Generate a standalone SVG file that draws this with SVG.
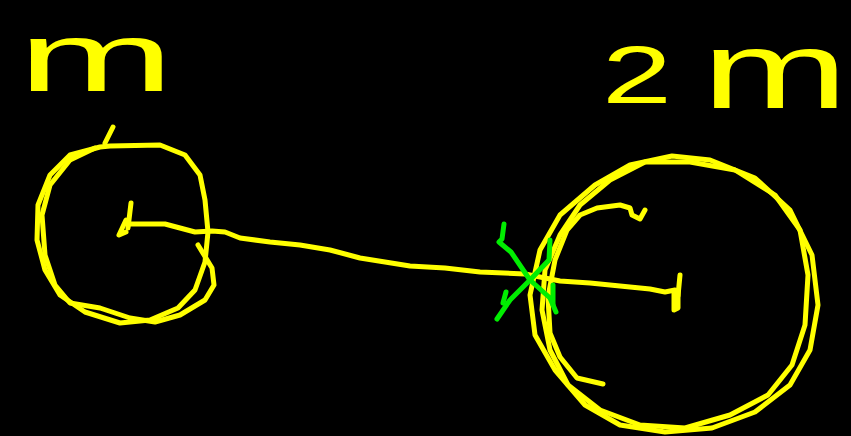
<svg xmlns="http://www.w3.org/2000/svg" width="851" height="436" viewBox="0 0 851 436">
<style>
.y{fill:none;stroke:#ffff00;stroke-width:5;stroke-linecap:round;stroke-linejoin:round}
.g{fill:none;stroke:#00ee00;stroke-width:5;stroke-linecap:round;stroke-linejoin:round}
.lbl{fill:#ffff00;font-family:"Liberation Sans",Arial,sans-serif}
</style>
<rect width="851" height="436" fill="#000"/>
<g id="mass-m">
<text class="lbl" x="18" y="91" font-size="98" textLength="156" lengthAdjust="spacingAndGlyphs">m</text>
<path class="y" d="M113,127 L105,143"/>
<path class="y" d="M110,146 L160,145 L185,155 L200,175 L205,200 L208,232 L205,262 L195,290 L178,308 L150,320 L120,323 L85,312 L60,295 L45,270 L37,240 L38,205 L50,175 L70,155 L100,147 Z"/>
<path class="y" d="M95,148 L70,160 L50,185 L42,215 L45,255 L55,285 L70,303 L100,308 L130,318 L155,322 L180,315 L205,300 L214,285 L212,268 L198,245"/>
<path class="y" d="M131,203 L128,228"/>
<path class="y" d="M126,220 L119,235 L126,232"/>
</g>
<g id="mass-2m">
<text class="lbl" x="602" y="103" font-size="82" textLength="70" lengthAdjust="spacingAndGlyphs">2</text>
<text class="lbl" x="702" y="108" font-size="110" textLength="146" lengthAdjust="spacingAndGlyphs">m</text>
<path class="y" d="M672,156 L710,160 L755,178 L790,210 L812,255 L818,305 L810,350 L790,385 L755,412 L712,428 L665,432 L620,425 L585,405 L555,370 L535,335 L530,295 L540,250 L560,215 L595,185 L630,165 Z"/>
<path class="y" d="M645,162 L690,162 L735,170 L775,195 L800,230 L808,275 L805,325 L792,365 L768,395 L730,415 L685,428 L640,425 L600,410 L568,385 L550,350 L542,310 L545,270 L560,235 L580,205 L610,180 Z"/>
<path class="y" d="M645,210 L640,219 L632,215 L630,208 L620,205 L597,208 L580,215 L567,230 L555,260 L548,297 L550,333 L560,357 L577,378 L603,384"/>
<path class="y" d="M680,275 L678,296"/>
<path class="y" d="M674,292 L674,310 L678,308 L678,290"/>
</g>
<g id="connectors">
<path class="y" d="M130,224 L165,224 L195,232 L212,231 L225,232 L240,238 L270,242 L300,245 L330,250 L360,258 L410,266 L445,268 L480,272 L525,274 L560,281 L590,283 L620,286 L650,289 L665,292 L675,290"/>
<path class="g" d="M504,224 L502,239 L499,242 L511,252 L530,280 L550,298 L556,312"/>
<path class="g" d="M550,240 L549,260 L530,280 L510,300 L497,319"/>
<path class="g" d="M506,292 L503,303"/>
<path class="g" d="M553,285 L553,305"/>
</g>
</svg>
